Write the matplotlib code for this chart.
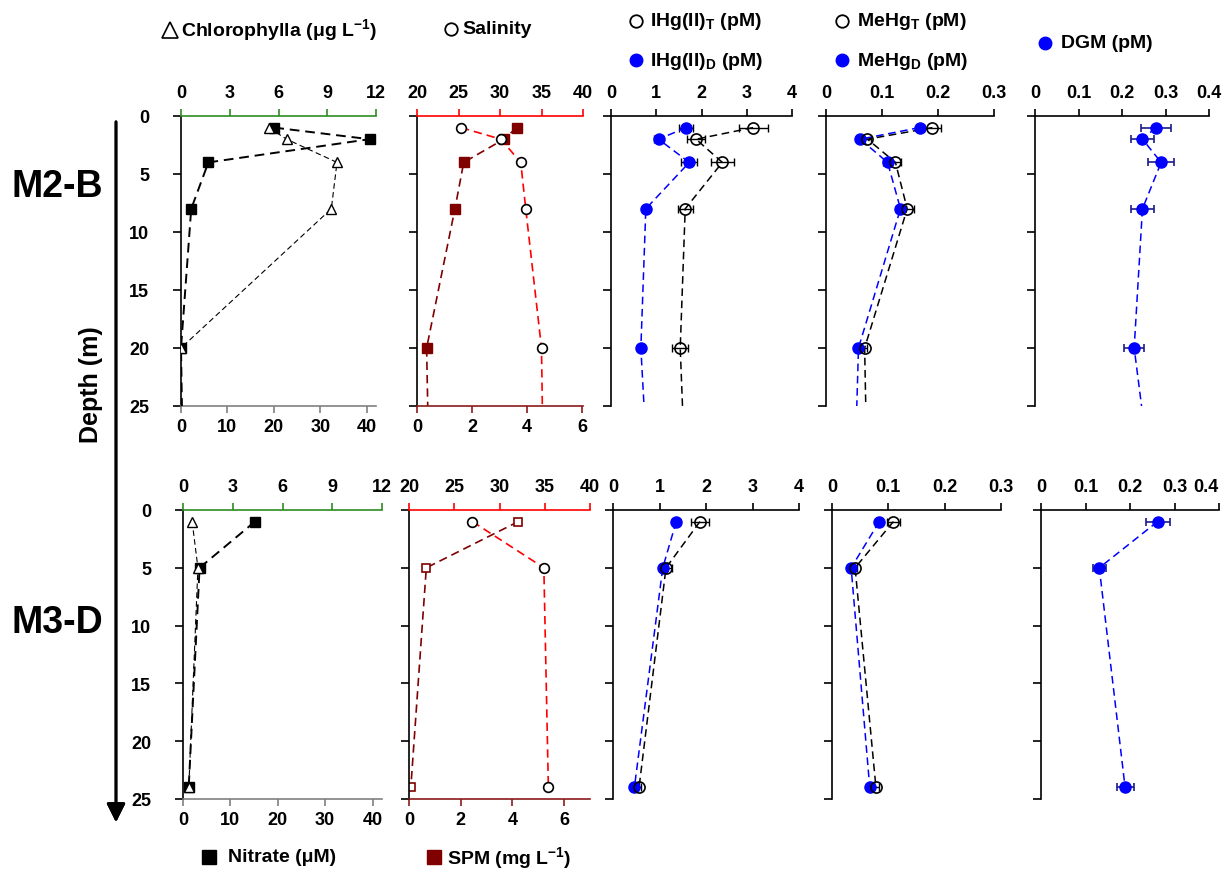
import matplotlib.pyplot as plt
from matplotlib.lines import Line2D

plt.rcParams['font.family'] = ['Liberation Sans', 'DejaVu Sans']
plt.rcParams['font.weight'] = 'bold'
plt.rcParams['mathtext.fontset'] = 'custom'
plt.rcParams['mathtext.rm'] = 'Liberation Sans:bold'
plt.rcParams['mathtext.it'] = 'Liberation Sans:bold'
plt.rcParams['mathtext.bf'] = 'Liberation Sans:bold'

# ---- data: station M2-B (last depth 25 m is the end of the fitted line only)
depth_b = [1, 2, 4, 8, 20, 25]
chl_b = [5.4, 6.5, 9.6, 9.25, 0.0]
nitrate_b = [20.1, 40.6, 5.9, 2.2, 0.0, 0.2]
sal_b = [25.3, 30.1, 32.5, 33.1, 35.0, 35.1]
spm_b = [3.63, 3.16, 1.70, 1.38, 0.35, 0.39]
ihgT_b = [3.14, 1.88, 2.46, 1.64, 1.53, 1.58]
ihgT_b_err = [0.32, 0.19, 0.26, 0.17, 0.18]
ihgD_b = [1.66, 1.05, 1.73, 0.77, 0.66, 0.73]
ihgD_b_err = [0.16, 0.11, 0.18, 0.05, 0.05]
mehgT_b = [0.19, 0.074, 0.124, 0.145, 0.069, 0.071]
mehgT_b_err = [0.015, 0.006, 0.010, 0.013, 0.004]
mehgD_b = [0.167, 0.061, 0.11, 0.133, 0.058, 0.055]
mehgD_b_err = [0.004, 0.004, 0.008, 0.008, 0.003]
dgm_b = [0.278, 0.247, 0.29, 0.247, 0.228, 0.245]
dgm_b_err = [0.035, 0.026, 0.03, 0.026, 0.023]

# ---- data: station M3-D
depth_d = [1, 5, 24]
chl_d = [0.55, 0.9, 0.35]
nitrate_d = [15.2, 3.5, 1.2]
sal_d = [27.0, 34.9, 35.4]
spm_d = [4.23, 0.67, 0.07]
ihgT_d = [1.87, 1.14, 0.56]
ihgT_d_err = [0.2, 0.12, 0.04]
ihgD_d = [1.36, 1.07, 0.46]
ihgD_d_err = [0.03, 0.03, 0.03]
mehgT_d = [0.109, 0.041, 0.078]
mehgT_d_err = [0.011, 0.004, 0.005]
mehgD_d = [0.084, 0.034, 0.067]
mehgD_d_err = [0.003, 0.003, 0.003]
dgm_d = [0.262, 0.131, 0.189]
dgm_d_err = [0.027, 0.014, 0.019]

W, H = 1224, 870
fig = plt.figure(figsize=(W / 100, H / 100), dpi=100)

TICK = 13
BLUE = '#0000ff'
DARKRED = '#800000'


def box(x0, x1, ytop, ybot):
    return [x0 / W, 1 - ybot / H, (x1 - x0) / W, (ybot - ytop) / H]


def depth_axis(ax, labels):
    ax.set_ylim(25, 0)
    ax.set_yticks([0, 5, 10, 15, 20, 25])
    ax.spines['right'].set_visible(False)
    ax.tick_params(axis='y', direction='out', length=6, width=1.2,
                   labelsize=TICK, pad=17, labelleft=labels)
    ax.spines['left'].set_linewidth(1.2)


def top_panel(rect, xmax, xticks, xlabels):
    ax = fig.add_axes(rect)
    depth_axis(ax, False)
    ax.set_xlim(0, xmax)
    ax.xaxis.set_ticks_position('top')
    ax.spines['bottom'].set_visible(False)
    ax.spines['top'].set_linewidth(1.2)
    ax.set_xticks(xticks)
    ax.set_xticklabels(xlabels)
    ax.tick_params(axis='x', direction='out', length=5, width=1.2,
                   labelsize=TICK, pad=6)
    return ax


def hg_pair(ax, depth, t, t_err, d, d_err):
    n = len(t_err)
    ax.errorbar(t[:n], depth[:n], xerr=t_err, fmt='none', ecolor='black',
                elinewidth=1, capsize=3, capthick=1, zorder=2)
    ax.errorbar(d[:n], depth[:n], xerr=d_err, fmt='none', ecolor='black',
                elinewidth=1, capsize=3, capthick=1, zorder=2)
    ax.plot(d, depth, '--', color=BLUE, lw=1.1, dashes=(5, 3), zorder=3)
    ax.plot(t, depth, '--', color='black', lw=1.1, dashes=(5, 3), zorder=3)
    ax.plot(d[:n], depth[:n], 'o', color=BLUE, ms=8, zorder=4)
    ax.plot(t[:n], depth[:n], 'o', mfc='none', mec='black', mew=1.2, ms=8, zorder=5)


def nutrient_panel(rect, depth, chl, nitrate, chl_depth):
    ax = fig.add_axes(rect)
    depth_axis(ax, True)
    ax.set_xlim(0, 42)
    ax.set_xticks([0, 10, 20, 30, 40])
    ax.spines['top'].set_visible(False)
    ax.spines['bottom'].set_color('#808080')
    ax.spines['bottom'].set_linewidth(1.2)
    ax.tick_params(axis='x', direction='out', length=5, width=1.2, color='#808080',
                   labelsize=TICK, pad=4)
    ax2 = ax.twiny()
    ax2.set_xlim(0, 12)
    ax2.set_xticks([0, 3, 6, 9, 12])
    for s in ['left', 'right', 'bottom']:
        ax2.spines[s].set_visible(False)
    ax2.spines['top'].set_color('#2e8b22')
    ax2.spines['top'].set_linewidth(1.2)
    ax2.tick_params(axis='x', direction='out', length=5, width=1.2, color='#2e8b22',
                    labelsize=TICK, pad=6)
    n = len(chl)
    ax2.plot(chl, chl_depth, '--', color='black', lw=0.8, dashes=(5, 3),
             marker='^', mfc='white', mec='black', ms=7)
    ax.plot(nitrate, depth, '--', color='black', lw=1.4, dashes=(5, 3), zorder=3)
    ax.plot(nitrate[:n], depth[:n], 's', color='black', ms=7, zorder=4)


def salinity_panel(rect, depth, sal, spm, spm_xmax, npts, spm_open):
    ax = fig.add_axes(rect)
    depth_axis(ax, False)
    ax.set_xlim(0, spm_xmax)
    ax.set_xticks([0, 2, 4, 6])
    ax.spines['top'].set_visible(False)
    ax.spines['bottom'].set_color('#8b1a1a')
    ax.spines['bottom'].set_linewidth(1.2)
    ax.tick_params(axis='x', direction='out', length=5, width=1.2, color='#8b1a1a',
                   labelsize=TICK, pad=4)
    ax2 = ax.twiny()
    ax2.set_xlim(20, 40)
    ax2.set_xticks([20, 25, 30, 35, 40])
    for s in ['left', 'right', 'bottom']:
        ax2.spines[s].set_visible(False)
    ax2.spines['top'].set_color('#ff0000')
    ax2.spines['top'].set_linewidth(1.2)
    ax2.tick_params(axis='x', direction='out', length=5, width=1.2, color='#ff0000',
                    labelsize=TICK, pad=6)
    ax.plot(spm, depth, '--', color=DARKRED, lw=1.2, dashes=(5, 3))
    if spm_open:
        ax.plot(spm[:npts], depth[:npts], 's', mfc='white', mec=DARKRED, mew=1.2, ms=6)
    else:
        ax.plot(spm[:npts], depth[:npts], 's', color=DARKRED, ms=7)
    ax2.plot(sal, depth, '--', color='#ff0000', lw=1.2, dashes=(5, 3))
    ax2.plot(sal[:npts], depth[:npts], 'o', mfc='white', mec='black', mew=1.2, ms=7)


# ---- row 1: M2-B
nutrient_panel(box(181, 376, 117, 407), depth_b, chl_b, nitrate_b, depth_b[:5])
salinity_panel(box(417, 583, 117, 407), depth_b, sal_b, spm_b, 6.04, 5, False)
ax = top_panel(box(611, 792, 117, 407), 4, [0, 1, 2, 3, 4], ['0', '1', '2', '3', '4'])
hg_pair(ax, depth_b, ihgT_b, ihgT_b_err, ihgD_b, ihgD_b_err)
ax = top_panel(box(826, 994, 117, 407), 0.3, [0, 0.1, 0.2, 0.3], ['0', '0.1', '0.2', '0.3'])
hg_pair(ax, depth_b, mehgT_b, mehgT_b_err, mehgD_b, mehgD_b_err)
ax = top_panel(box(1035, 1209, 117, 407), 0.4, [0, 0.1, 0.2, 0.3, 0.4],
               ['0', '0.1', '0.2', '0.3', '0.4'])
ax.errorbar(dgm_b[:5], depth_b[:5], xerr=dgm_b_err, fmt='none', ecolor='#1a1a8c',
            elinewidth=1.2, capsize=3, capthick=1.2)
ax.plot(dgm_b, depth_b, '--', color=BLUE, lw=1.1, dashes=(5, 3))
ax.plot(dgm_b[:5], depth_b[:5], 'o', color=BLUE, ms=8)

# ---- row 2: M3-D
nutrient_panel(box(183, 382, 511, 800), depth_d, chl_d, nitrate_d, depth_d)
salinity_panel(box(409, 590, 511, 800), depth_d, sal_d, spm_d, 7, 3, True)
ax = top_panel(box(613, 799, 511, 800), 4, [0, 1, 2, 3, 4], ['0', '1', '2', '3', '4'])
hg_pair(ax, depth_d, ihgT_d, ihgT_d_err, ihgD_d, ihgD_d_err)
ax = top_panel(box(832, 1001, 511, 800), 0.3, [0, 0.1, 0.2, 0.3], ['0', '0.1', '0.2', '0.3'])
hg_pair(ax, depth_d, mehgT_d, mehgT_d_err, mehgD_d, mehgD_d_err)
ax = top_panel(box(1041, 1219, 511, 800), 0.4, [0, 0.1, 0.2, 0.3, 0.4],
               ['0', '0.1', '0.2', '0.3', '0.4'])
ax.get_xticklabels()[-1].set_horizontalalignment('right')
ax.errorbar(dgm_d, depth_d, xerr=dgm_d_err, fmt='none', ecolor='#1a1a8c',
            elinewidth=1.2, capsize=3, capthick=1.2)
ax.plot(dgm_d, depth_d, '--', color=BLUE, lw=1.1, dashes=(5, 3))
ax.plot(dgm_d, depth_d, 'o', color=BLUE, ms=8)


# ---- figure level labels, legend entries and depth arrow
def fig_marker(x, y, **kw):
    fig.add_artist(Line2D([x / W], [1 - y / H], transform=fig.transFigure,
                          linestyle='none', **kw))


def fig_label(x, y, s, size=14):
    fig.text(x / W, 1 - y / H, s, ha='left', va='center', fontsize=size,
             fontweight='bold')


fig_marker(170, 31, marker='^', mfc='white', mec='black', mew=1.2, ms=11)
fig_label(181, 30, 'Chlorophylla (μg L$^\\mathrm{-1}$)')
fig_marker(451, 30, marker='o', mfc='white', mec='black', mew=1.3, ms=9)
fig_label(462, 30, 'Salinity')
fig_marker(636, 22, marker='o', mfc='white', mec='black', mew=1.3, ms=9)
fig_label(650, 22, 'IHg(II)$_\\mathrm{T}$ (pM)')
fig_marker(636, 61, marker='o', color=BLUE, ms=9)
fig_label(650, 61, 'IHg(II)$_\\mathrm{D}$ (pM)')
fig_marker(842, 22, marker='o', mfc='white', mec='black', mew=1.3, ms=9)
fig_label(857, 22, 'MeHg$_\\mathrm{T}$ (pM)')
fig_marker(842, 61, marker='o', color=BLUE, ms=9)
fig_label(857, 61, 'MeHg$_\\mathrm{D}$ (pM)')
fig_marker(1045, 44, marker='o', color=BLUE, ms=9)
fig_label(1061, 44, 'DGM (pM)')
fig_marker(209, 858, marker='s', color='black', ms=10)
fig_label(228, 858, 'Nitrate (μM)')
fig_marker(434, 858, marker='s', color=DARKRED, ms=10)
fig_label(447, 858, 'SPM (mg L$^\\mathrm{-1}$)')

fig_label(12, 187, 'M2-B', size=27)
fig_label(12, 623, 'M3-D', size=27)
fig.text(91 / W, 1 - 385 / H, 'Depth (m)', rotation=90, ha='center', va='center',
         fontsize=18, fontweight='bold')
fig.add_artist(plt.annotate('', xy=(116, H - 826), xytext=(116, H - 120),
                            xycoords='figure pixels',
                            arrowprops=dict(arrowstyle='-|>', lw=2, color='black',
                                            mutation_scale=28)))

fig.savefig('out.png', dpi=100)
